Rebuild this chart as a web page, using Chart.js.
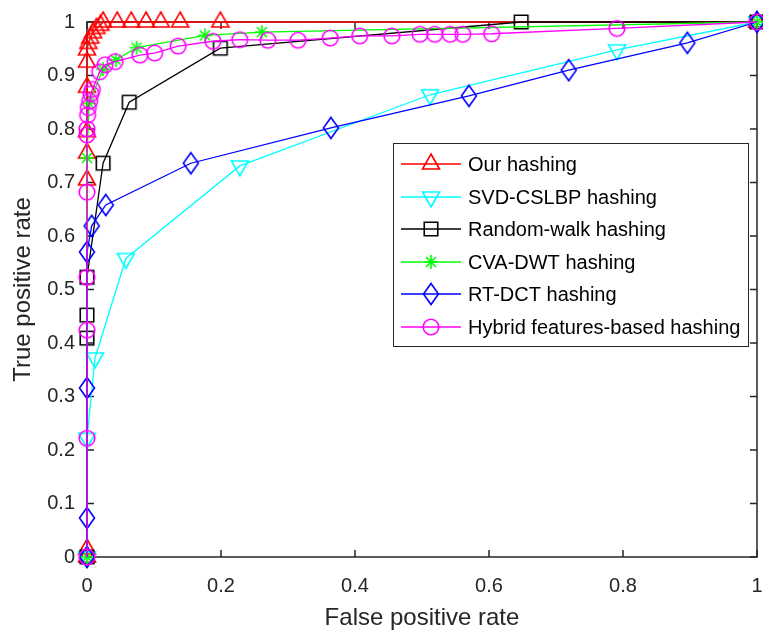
<!DOCTYPE html>
<html>
<head>
<meta charset="utf-8">
<script src="https://cdn.jsdelivr.net/npm/chart.js@4.4.0/dist/chart.umd.min.js"></script>
<style>
  html, body { margin: 0; padding: 0; background: #fff; }
  canvas { display: block; }
</style>
</head>
<body>
<canvas id="roc" width="763" height="630"></canvas>
<script>
// ROC curves of six image hashing methods

const seriesNames = [
  'Our hashing',
  'SVD-CSLBP hashing',
  'Random-walk hashing',
  'CVA-DWT hashing',
  'RT-DCT hashing',
  'Hybrid features-based hashing'
];

const ourFpr = [0, 0, 0, 0, 0, 0, 0, 0, 0.002, 0.005, 0.009, 0.014, 0.02, 0.024, 0.045, 0.066, 0.088, 0.11, 0.139, 0.199, 1];
const ourTpr = [0, 0.015, 0.705, 0.755, 0.795, 0.878, 0.925, 0.948, 0.96, 0.97, 0.98, 0.988, 0.994, 1, 1, 1, 1, 1, 1, 1, 1];

const svdFpr = [0, 0, 0.012, 0.058, 0.228, 0.512, 0.791, 1];
const svdTpr = [0, 0.222, 0.372, 0.558, 0.731, 0.864, 0.948, 1];

const walkFpr = [0, 0, 0, 0, 0.024, 0.063, 0.199, 0.648, 1];
const walkTpr = [0, 0.409, 0.452, 0.523, 0.736, 0.85, 0.951, 1, 1];

const cvaFpr = [0, 0, 0.003, 0.024, 0.043, 0.074, 0.176, 0.261, 1];
const cvaTpr = [0, 0.746, 0.848, 0.912, 0.929, 0.952, 0.975, 0.981, 1];

const rtFpr = [0, 0, 0, 0, 0.007, 0.028, 0.155, 0.364, 0.57, 0.719, 0.896, 1];
const rtTpr = [0, 0.073, 0.316, 0.57, 0.619, 0.658, 0.736, 0.802, 0.862, 0.91, 0.961, 1];

const hybFpr = [0, 0, 0, 0, 0, 0, 0, 0.001, 0.002, 0.004, 0.006, 0.008, 0.019, 0.027, 0.042, 0.079, 0.101, 0.136,
  0.188, 0.228, 0.27, 0.315, 0.363, 0.407, 0.455, 0.497, 0.519, 0.542, 0.561, 0.604, 0.791, 1];
const hybTpr = [0, 0.222, 0.424, 0.523, 0.682, 0.789, 0.8, 0.826, 0.84, 0.852, 0.866, 0.874, 0.907, 0.92, 0.926, 0.938, 0.942, 0.955,
  0.964, 0.967, 0.966, 0.966, 0.97, 0.974, 0.974, 0.977, 0.977, 0.977, 0.977, 0.978, 0.988, 1];

const xTicks = [0, 0.2, 0.4, 0.6, 0.8, 1];
const yTicks = [0, 0.1, 0.2, 0.3, 0.4, 0.5, 0.6, 0.7, 0.8, 0.9, 1];

const FONT = "'Liberation Sans', Arial, sans-serif";
const AXIS_COLOR = '#262626';

// marker outlines, MATLAB style
function paintMarker(ctx, shape, x, y, color) {
  ctx.save();
  ctx.strokeStyle = color;
  ctx.lineWidth = 1.6;
  ctx.beginPath();
  switch (shape) {
    case 'up':
      ctx.moveTo(x, y - 10); ctx.lineTo(x + 8.5, y + 5); ctx.lineTo(x - 8.5, y + 5); ctx.closePath();
      break;
    case 'down':
      ctx.moveTo(x, y + 10); ctx.lineTo(x + 8.5, y - 5); ctx.lineTo(x - 8.5, y - 5); ctx.closePath();
      break;
    case 'square':
      ctx.rect(x - 6.75, y - 6.75, 13.5, 13.5);
      break;
    case 'star':
      ctx.moveTo(x - 7, y); ctx.lineTo(x + 7, y);
      ctx.moveTo(x, y - 7); ctx.lineTo(x, y + 7);
      ctx.moveTo(x - 5, y - 5); ctx.lineTo(x + 5, y + 5);
      ctx.moveTo(x - 5, y + 5); ctx.lineTo(x + 5, y - 5);
      break;
    case 'diamond':
      ctx.moveTo(x, y - 10.5); ctx.lineTo(x + 7.5, y); ctx.lineTo(x, y + 10.5); ctx.lineTo(x - 7.5, y); ctx.closePath();
      break;
    case 'circle':
      ctx.arc(x, y, 7.8, 0, Math.PI * 2);
      break;
  }
  ctx.stroke();
  ctx.restore();
}

function markerImage(shape, color) {
  const c = document.createElement('canvas');
  c.width = 28;
  c.height = 28;
  paintMarker(c.getContext('2d'), shape, 14, 14, color);
  return c;
}

const styles = [
  { color: '#ff0000', shape: 'up' },
  { color: '#00ffff', shape: 'down' },
  { color: '#000000', shape: 'square' },
  { color: '#00ff00', shape: 'star' },
  { color: '#0000ff', shape: 'diamond' },
  { color: '#ff00ff', shape: 'circle' }
];

const pairs = [[ourFpr, ourTpr], [svdFpr, svdTpr], [walkFpr, walkTpr], [cvaFpr, cvaTpr], [rtFpr, rtTpr], [hybFpr, hybTpr]];

const datasets = pairs.map(([fx, ty], i) => ({
  label: seriesNames[i],
  data: fx.map((v, k) => ({ x: v, y: ty[k] })),
  showLine: true,
  borderColor: styles[i].color,
  borderWidth: 1.3,
  pointStyle: markerImage(styles[i].shape, styles[i].color),
  pointRadius: 8,
  tension: 0,
  clip: false,
  order: 6 - i
}));

// axes box with inward ticks
const boxPlugin = {
  id: 'box',
  beforeDraw(chart) {
    const ctx = chart.ctx;
    ctx.save();
    ctx.fillStyle = '#fff';
    ctx.fillRect(0, 0, chart.width, chart.height);
    ctx.restore();
  },
  beforeDatasetsDraw(chart) {
    const { ctx, chartArea: a, scales } = chart;
    const len = 7;
    ctx.save();
    ctx.strokeStyle = AXIS_COLOR;
    ctx.lineWidth = 1.5;
    ctx.strokeRect(a.left, a.top, a.right - a.left, a.bottom - a.top);
    ctx.beginPath();
    xTicks.forEach(v => {
      const px = scales.x.getPixelForValue(v);
      ctx.moveTo(px, a.bottom); ctx.lineTo(px, a.bottom - len);
      ctx.moveTo(px, a.top); ctx.lineTo(px, a.top + len);
    });
    yTicks.forEach(v => {
      const py = scales.y.getPixelForValue(v);
      ctx.moveTo(a.left, py); ctx.lineTo(a.left + len, py);
      ctx.moveTo(a.right, py); ctx.lineTo(a.right - len, py);
    });
    ctx.stroke();
    ctx.restore();
  }
};

// legend box inside the plot
const legendPlugin = {
  id: 'insetLegend',
  afterDatasetsDraw(chart) {
    const ctx = chart.ctx;
    const left = 393, top = 143, width = 355, height = 203;
    const rowY = [164, 197, 229, 262, 294, 327];
    ctx.save();
    ctx.fillStyle = '#fff';
    ctx.fillRect(left, top, width, height);
    ctx.strokeStyle = AXIS_COLOR;
    ctx.lineWidth = 1;
    ctx.strokeRect(left + 0.5, top + 0.5, width, height);
    ctx.font = '20px ' + FONT;
    ctx.textBaseline = 'middle';
    ctx.textAlign = 'left';
    chart.data.datasets.forEach((ds, i) => {
      const y = rowY[i];
      ctx.strokeStyle = styles[i].color;
      ctx.lineWidth = 1.3;
      ctx.beginPath();
      ctx.moveTo(401, y); ctx.lineTo(461, y);
      ctx.stroke();
      paintMarker(ctx, styles[i].shape, 431, y, styles[i].color);
      ctx.fillStyle = '#000';
      ctx.fillText(ds.label, 468, y + 1);
    });
    ctx.restore();
  }
};

const fmt = v => String(Math.round(v * 10) / 10);

// drop the automatic label overhang so only layout.padding decides the plot edges
const noOverhang = s => {
  s.paddingLeft = 0;
  s.paddingRight = 0;
  s.paddingTop = 0;
  s.paddingBottom = 0;
};

new Chart(document.getElementById('roc'), {
  type: 'scatter',
  data: { datasets },
  options: {
    responsive: false,
    animation: false,
    events: [],
    layout: { autoPadding: false, padding: { top: 22, right: 6, left: 0, bottom: 0 } },
    scales: {
      x: {
        type: 'linear',
        min: 0,
        max: 1,
        afterBuildTicks: s => { s.ticks = xTicks.map(v => ({ value: v })); },
        afterFit: s => { s.height = 73; noOverhang(s); },
        grid: { display: false, drawTicks: false },
        border: { display: false },
        ticks: { callback: fmt, color: AXIS_COLOR, padding: 17, maxRotation: 0, font: { family: FONT, size: 20 } },
        title: {
          display: true,
          text: 'False positive rate',
          color: AXIS_COLOR,
          font: { family: FONT, size: 24, lineHeight: 1 },
          padding: { top: 0, bottom: 0 }
        }
      },
      y: {
        type: 'linear',
        min: 0,
        max: 1,
        afterBuildTicks: s => { s.ticks = yTicks.map(v => ({ value: v })); },
        afterFit: s => { s.width = 87; noOverhang(s); },
        grid: { display: false, drawTicks: false },
        border: { display: false },
        ticks: { callback: fmt, color: AXIS_COLOR, padding: 12, font: { family: FONT, size: 20 } },
        title: {
          display: true,
          text: 'True positive rate',
          color: AXIS_COLOR,
          font: { family: FONT, size: 24, lineHeight: 1 },
          padding: { top: 11, bottom: 0 }
        }
      }
    },
    plugins: {
      legend: { display: false },
      tooltip: { enabled: false }
    }
  },
  plugins: [boxPlugin, legendPlugin]
});
</script>
</body>
</html>
